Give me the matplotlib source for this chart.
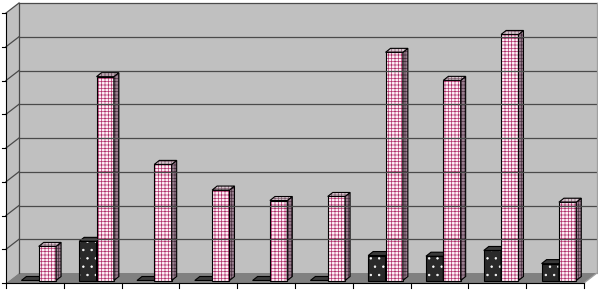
import matplotlib
matplotlib.use("Agg")
import matplotlib.pyplot as plt
from matplotlib.patches import Polygon

# data (no category labels are shown)
categories = [f"C{i}" for i in range(1, 11)]
dark_vals = [0.0, 1.16, 0.0, 0.0, 0.0, 0.0, 0.74, 0.72, 0.89, 0.50]
pink_vals = [1.01, 6.04, 3.44, 2.68, 2.37, 2.49, 6.76, 5.93, 7.29, 2.32]
y_ticks = list(range(0, 9))

# oblique 3d look, everything in data units
PX_X, PX_Y = 57.8, 33.75       # pixels per category / per value unit
DX, DY = 13 / PX_X, 10 / PX_Y   # front -> back wall
BAR_POS = 0.25                  # bars sit a quarter into the depth
BDX, BDY = 5 / PX_X, 4 / PX_Y   # bar depth
BAR_W = 0.3
GROUP_START = 0.21

WALL = "#c0c0c0"
FLOOR = "#808080"
GRID = "#4a4a4a"

plt.rcParams["hatch.linewidth"] = 0.5

fig = plt.figure(figsize=(5.98, 2.90), dpi=100)
ax = fig.add_axes([0, 0, 1, 1])
ax.set_xlim(-6 / PX_X, 592 / PX_X)
ax.set_ylim(-7 / PX_Y, 283 / PX_Y)
ax.axis("off")

n = len(categories)
vmax = y_ticks[-1]


def poly(pts, **kw):
    ax.add_patch(Polygon(pts, closed=True, **kw))


def face(pts, fc, hatch=None, hc=None):
    # hatch colour comes from edgecolor, so fill and outline are separate
    if hatch:
        poly(pts, facecolor=fc, edgecolor=hc, lw=0, hatch=hatch)
    else:
        poly(pts, facecolor=fc, edgecolor="none")
    poly(pts, fill=False, edgecolor="black", lw=0.8)


# walls and floor
poly([(0, 0), (DX, DY), (DX, vmax + DY), (0, vmax)], facecolor=WALL, edgecolor="none")
poly([(DX, DY), (n + DX, DY), (n + DX, vmax + DY), (DX, vmax + DY)],
     facecolor=WALL, edgecolor="none")
poly([(0, 0), (n, 0), (n + DX, DY), (DX, DY)], facecolor=FLOOR, edgecolor="none")

for k in y_ticks[1:]:
    ax.plot([DX, n + DX], [k + DY, k + DY], color=GRID, lw=0.9)
    ax.plot([0, DX], [k, k + DY], color=GRID, lw=0.9)
ax.plot([DX, DX], [DY, vmax + DY], color=GRID, lw=0.9)
ax.plot([n + DX, n + DX], [DY, vmax + DY], color="#a0a0a0", lw=0.9)
ax.plot([n, n + DX], [0, DY], color="#a0a0a0", lw=0.9)

# axes lines and ticks
ax.plot([0, 0], [0, vmax], color="black", lw=0.8)
for k in y_ticks:
    ax.plot([-4 / PX_X, 0], [k, k], color="black", lw=0.8)
ax.plot([0, n], [0, 0], color="black", lw=0.8)
for k in range(n + 1):
    ax.plot([k, k], [0, -5 / PX_Y], color="black", lw=0.8)

# bars
styles = [
    dict(front=("#2a2a2a", "..", "white"), side=("#151515", None, None),
         top=("#3a3a3a", None, None)),
    dict(front=("#fdf0f6", "+++++", "#b0306a"), side=("#9a8090", "+++++", "#4a3040"),
         top=("#d8c8d0", "+++++", "#806070")),
]

for i in range(n):
    for j, vals in enumerate([dark_vals, pink_vals]):
        v = vals[i]
        st = styles[j]
        x0 = i + GROUP_START + j * BAR_W + BAR_POS * DX
        y0 = BAR_POS * DY
        x1 = x0 + BAR_W
        top = y0 + v
        if v > 0:
            face([(x0, y0), (x1, y0), (x1, top), (x0, top)], *st["front"])
            face([(x1, y0), (x1 + BDX, y0 + BDY), (x1 + BDX, top + BDY), (x1, top)],
                 *st["side"])
        face([(x0, top), (x1, top), (x1 + BDX, top + BDY), (x0 + BDX, top + BDY)],
             *st["top"])

fig.savefig("out.png", dpi=100)
